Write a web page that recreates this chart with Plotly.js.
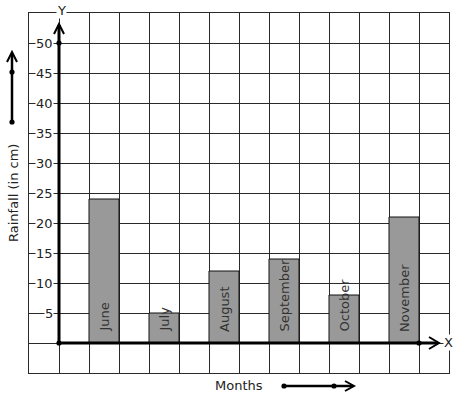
<!DOCTYPE html>
<html>
<head>
<meta charset="utf-8">
<script src="https://cdn.plot.ly/plotly-3.0.1.min.js"></script>
<style>html,body{margin:0;padding:0;background:#fff;}#chart{width:457px;height:399px;}</style>
</head>
<body>
<div id="chart"></div>
<script>
// ---- data ----
const months = ['June', 'July', 'August', 'September', 'October', 'November'];
const rainfall = [24, 5, 12, 14, 8, 21];
const yTickValues = [5, 10, 15, 20, 25, 30, 35, 40, 45, 50];
const yTickLabels = ['5', '10', '15', '20', '25', '30', '35', '40', '45', '50'];
const xTitle = 'Months';
const yTitle = 'Rainfall (in cm)';

// ---- geometry helpers (pixel -> paper) ----
const W = 457, H = 399;
const M = {l: 29, r: 8, t: 13, b: 26};
const PW = W - M.l - M.r, PH = H - M.t - M.b;
const px = x => (x - M.l) / PW;
const py = y => (H - M.b - y) / PH;

const FONT = 'DejaVu Sans, Verdana, sans-serif';
const TXT = '#222222';

const xPos = months.map((m, i) => 1.5 + 2 * i);

const trace = {
  type: 'bar',
  x: xPos,
  y: rainfall,
  width: 1,
  marker: {color: '#999999', line: {color: '#111111', width: 1}},
  hoverinfo: 'skip'
};

const shapes = [];
function line(x0, y0, x1, y1, w) {
  shapes.push({type: 'line', xref: 'paper', yref: 'paper', x0: px(x0), y0: py(y0), x1: px(x1), y1: py(y1),
    line: {color: '#000', width: w}});
}
function path(pts, w) {
  const d = pts.map((p, i) => (i ? 'L' : 'M') + px(p[0]) + ',' + py(p[1])).join(' ');
  shapes.push({type: 'path', xref: 'paper', yref: 'paper', path: d, line: {color: '#000', width: w}});
}
function dot(x, y) {
  const r = 2.6;
  shapes.push({type: 'circle', xref: 'paper', yref: 'paper', x0: px(x - r), x1: px(x + r), y0: py(y + r), y1: py(y - r),
    fillcolor: '#000', line: {color: '#000', width: 0}});
}
// y axis
line(59, 344, 59, 25, 3);
path([[54, 34], [59, 24], [64, 34]], 2);
dot(59, 43); dot(59, 343);
// x axis
line(58, 343, 438, 343, 3);
path([[429, 337], [439, 343], [429, 349]], 2);
dot(419, 343);
// left arrow
line(12, 122, 12, 54, 2.5);
path([[7, 62], [12, 52], [17, 62]], 2);
dot(12, 72); dot(12, 122);
// bottom arrow
line(284, 386, 353, 386, 2.5);
path([[345, 381], [354, 386], [345, 391]], 2);
dot(284, 386); dot(334, 386);

const annotations = [];
yTickValues.forEach((v, i) => {
  annotations.push({xref: 'paper', yref: 'y', x: px(53.5), y: v, xanchor: 'right', yanchor: 'middle',
    text: yTickLabels[i], showarrow: false, bgcolor: '#ffffff', borderpad: 0,
    font: {family: FONT, size: 13, color: TXT}});
});
months.forEach((m, i) => {
  annotations.push({xref: 'x', yref: 'y', x: xPos[i], y: 0, xanchor: 'center', yanchor: 'bottom', yshift: 9,
    text: m, textangle: -90, showarrow: false,
    font: {family: FONT, size: 13, color: '#333333'}});
});
annotations.push({xref: 'paper', yref: 'paper', x: px(61), y: py(10), xanchor: 'center', yanchor: 'middle',
  text: 'Y', showarrow: false, bgcolor: '#ffffff', borderpad: 0, font: {family: FONT, size: 13, color: TXT}});
annotations.push({xref: 'paper', yref: 'paper', x: px(448.5), y: py(342), xanchor: 'center', yanchor: 'middle',
  text: 'X', showarrow: false, bgcolor: '#ffffff', borderpad: 0, font: {family: FONT, size: 13, color: TXT}});
annotations.push({xref: 'paper', yref: 'paper', x: px(239), y: py(385), xanchor: 'center', yanchor: 'middle',
  text: xTitle, showarrow: false, font: {family: FONT, size: 13, color: TXT}});
annotations.push({xref: 'paper', yref: 'paper', x: px(13), y: py(193), xanchor: 'center', yanchor: 'middle',
  text: yTitle, textangle: -90, showarrow: false, font: {family: FONT, size: 13, color: TXT}});

const layout = {
  width: W, height: H,
  margin: M,
  paper_bgcolor: '#ffffff', plot_bgcolor: '#ffffff',
  showlegend: false,
  xaxis: {range: [-1, 13], dtick: 1, tick0: 0, showgrid: true, gridcolor: '#2a2a2a', gridwidth: 1,
    zeroline: false, showticklabels: false, ticks: '', showline: true, mirror: true, linecolor: '#2a2a2a', linewidth: 1,
    fixedrange: true},
  yaxis: {range: [-5, 55], dtick: 5, tick0: 0, showgrid: true, gridcolor: '#2a2a2a', gridwidth: 1,
    zeroline: false, showticklabels: false, ticks: '', showline: true, mirror: true, linecolor: '#2a2a2a', linewidth: 1,
    fixedrange: true},
  shapes: shapes,
  annotations: annotations,
  font: {family: FONT}
};

Plotly.newPlot('chart', [trace], layout, {displayModeBar: false, staticPlot: true});
</script>
</body>
</html>
